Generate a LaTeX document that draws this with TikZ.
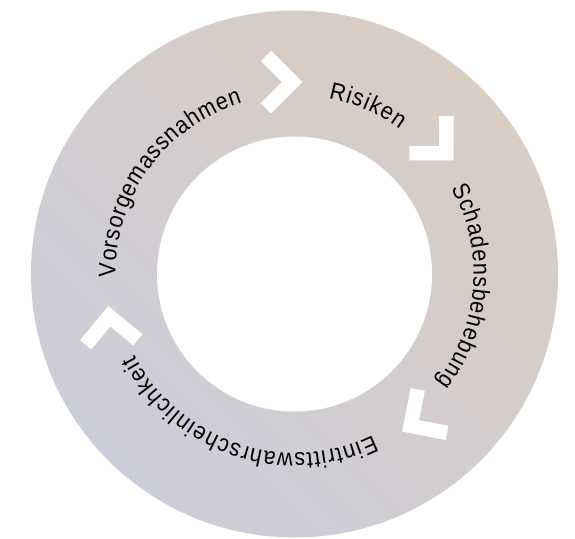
\documentclass[tikz,border=0pt]{standalone}
\usepackage{fontspec}
\setmainfont{Liberation Sans}
\newfontfamily\ringfamily[FakeStretch=0.9]{Liberation Sans}
\newcommand\ringfont{\ringfamily\fontsize{24pt}{28pt}\selectfont}
\usetikzlibrary{decorations.text}
\definecolor{ringbeige}{RGB}{218,205,194}
\definecolor{ringlav}{RGB}{204,205,218}
\begin{document}
\ringfont
\begin{tikzpicture}[x=1pt,y=1pt,
  chev/.style={draw=white, line width=14.5pt, miter limit=10, line join=miter, line cap=butt},
  ringtext/.style={decorate, decoration={text along path, text align={fit to path}, text color=black}}]
\useasboundingbox (-294.5,-264) rectangle (280.5,274);
\fill[white] (-294.5,-264) rectangle (280.5,274);
\shade[top color=ringbeige, bottom color=ringlav, shading angle=-45] (0,0) circle[radius=263.5];
\fill[white] (0,0) circle[radius=137.5];
% chevrons
\foreach \a/\p in {95.9/0, 43.7/-45, -47.4/-146, 198/95.5} {
  \begin{scope}[shift={(\a:193)}, rotate=\p]
    \draw[chev] (-8.7,26.2) -- (17.5,0) -- (-8.7,-26.2);
  \end{scope}
}
% texts
\path[ringtext, decoration={text={|\ringfont|Risiken}}] (79:179) arc[start angle=79, end angle=54, radius=179];
\path[ringtext, decoration={text={|\ringfont|Schadensbehebung}}] (28.6:179) arc[start angle=28.6, end angle=-37.3, radius=179];
\path[ringtext, decoration={text={|\ringfont|Eintrittswahrscheinlichkeit}}] (-64:179) arc[start angle=-64, end angle=-153, radius=179];
\path[ringtext, decoration={text={|\ringfont|Vorsorgemassnahmen}}] (181:179) arc[start angle=181, end angle=107, radius=179];
\end{tikzpicture}
\end{document}
